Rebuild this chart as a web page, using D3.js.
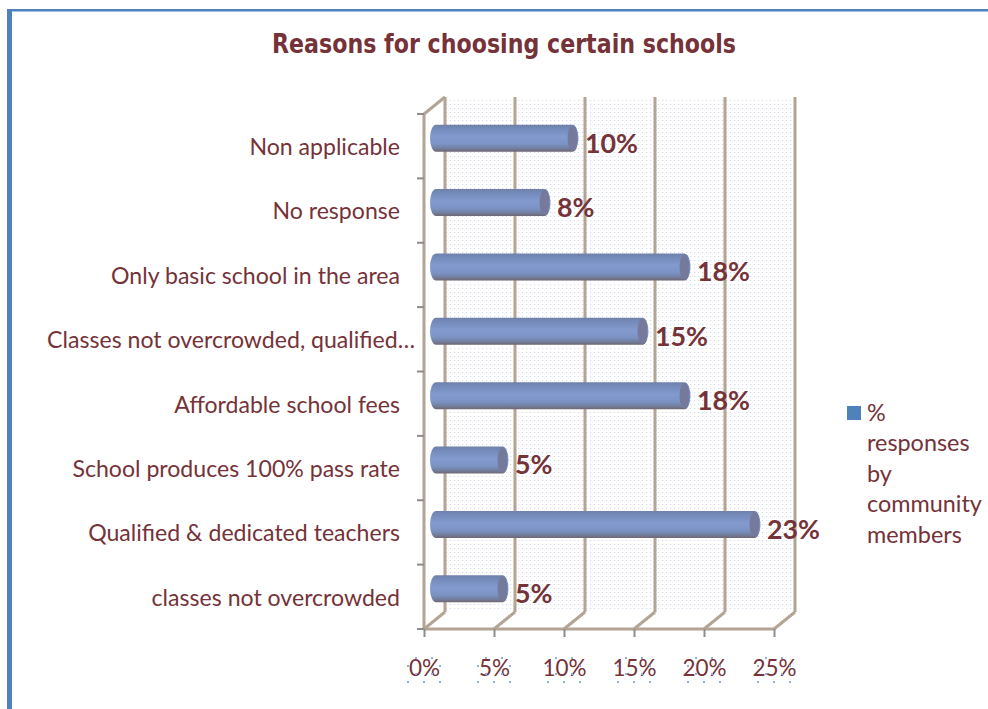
<!DOCTYPE html>
<html>
<head>
<meta charset="utf-8">
<script src="https://cdnjs.cloudflare.com/ajax/libs/d3/7.8.5/d3.min.js"></script>
<style>
html,body{margin:0;padding:0;background:#fff;}
svg{display:block;}
text{font-family:Lato,"Open Sans",sans-serif;}
</style>
</head>
<body>
<script>
const titleText = "Reasons for choosing certain schools";
const categories = ["Non applicable","No response","Only basic school in the area","Classes not overcrowded, qualified…","Affordable school fees","School produces 100% pass rate","Qualified & dedicated teachers","classes not overcrowded"];
const values = [10,8,18,15,18,5,23,5];
const xTicks = [0,5,10,15,20,25];
const legendLines = ["%","responses","by","community","members"];
// small square handles around each value-axis label: [x offset, row]
const handleOffsets = [[-8,658],[8,658],[-16,666],[16,666],[-8,674],[8,674],[-16,682],[0,682],[16,682]];

const W = 988, H = 709;
const textColor = "#753238", wallColor = "#b3a493", tickColor = "#8c8c8c", frame = "#4f81bd";
const depthX = 21, depthY = 17;

const svg = d3.select("body").append("svg").attr("width",W).attr("height",H);
const defs = svg.append("defs");

// dotted back wall
const pat = defs.append("pattern").attr("id","wallDots").attr("patternUnits","userSpaceOnUse")
  .attr("width",4).attr("height",4);
pat.append("rect").attr("x",1).attr("y",1).attr("width",1.2).attr("height",1).attr("fill","#d2d9e8");

// cylinder shading
const grad = defs.append("linearGradient").attr("id","cyl").attr("x1",0).attr("y1",0).attr("x2",0).attr("y2",1);
[[0,"#6f80a8"],[0.12,"#7389b8"],[0.45,"#829ace"],[0.72,"#7b93c4"],[0.88,"#727f9f"],[1,"#6f6672"]]
  .forEach(d=>grad.append("stop").attr("offset",d[0]).attr("stop-color",d[1]));

// page frame
svg.append("rect").attr("x",7).attr("y",9).attr("width",W-7).attr("height",2.5).attr("fill",frame);
svg.append("rect").attr("x",7).attr("y",9).attr("width",5).attr("height",H-9).attr("fill",frame);

svg.append("text").attr("x",504).attr("y",53).attr("text-anchor","middle")
  .style("font-family","'DejaVu Sans',sans-serif")
  .attr("font-size",26).attr("font-weight",700).attr("fill",textColor)
  .attr("textLength",464).attr("lengthAdjust","spacingAndGlyphs").text(titleText);

const x = d3.scaleLinear().domain([0,25]).range([424,774]);
const y = d3.scaleBand().domain(categories).range([114,629]);

const back = svg.append("g").attr("transform",`translate(${depthX},${-depthY})`);
back.append("rect").attr("x",x(0)).attr("y",y.range()[0]+3).attr("width",x(25)-x(0)).attr("height",y.range()[1]-y.range()[0]-3)
  .attr("fill","url(#wallDots)");

// vertical walls and floor diagonals
const walls = svg.append("g").attr("stroke",wallColor).attr("fill","none");
walls.selectAll("line.v").data(xTicks).join("line").attr("class","v")
  .attr("x1",d=>x(d)+depthX).attr("x2",d=>x(d)+depthX).attr("y1",114-depthY).attr("y2",629-depthY).attr("stroke-width",3);
walls.selectAll("line.d").data(xTicks).join("line").attr("class","d")
  .attr("x1",d=>x(d)).attr("x2",d=>x(d)+depthX).attr("y1",629).attr("y2",629-depthY).attr("stroke-width",3);
walls.append("line").attr("x1",x(0)).attr("x2",x(0)+depthX).attr("y1",114).attr("y2",114-depthY).attr("stroke-width",3);
walls.append("line").attr("x1",x(0)).attr("x2",x(0)).attr("y1",114).attr("y2",629).attr("stroke-width",3);
walls.append("line").attr("x1",x(0)).attr("x2",x(25)).attr("y1",629).attr("y2",629).attr("stroke-width",3);

// category boundary ticks
svg.append("g").selectAll("line").data(d3.range(categories.length+1)).join("line")
  .attr("x1",417).attr("x2",424)
  .attr("y1",i=>114+i*y.step()).attr("y2",i=>114+i*y.step())
  .attr("stroke",tickColor).attr("stroke-width",2);

// category labels; the shortened label overruns the others on the right
const yAxis = d3.axisLeft(y).tickSize(0).tickPadding(24);
const yG = svg.append("g").attr("transform",`translate(${x(0)},1.5)`).call(yAxis);
yG.select(".domain").remove();
yG.selectAll("text").attr("font-size",23.1).attr("fill",textColor)
  .attr("dx",d=>d.endsWith("…")?15:0)
  .style("font-family","Lato,'Open Sans',sans-serif");

// value axis
const xAxis = d3.axisBottom(x).tickValues(xTicks).tickSize(8).tickPadding(23).tickFormat(d=>d+"%");
const xG = svg.append("g").attr("transform","translate(0,629)").call(xAxis);
xG.select(".domain").remove();
xG.selectAll("line").attr("stroke",tickColor).attr("stroke-width",2);
xG.selectAll("text").attr("font-size",22.5).attr("fill",textColor).style("font-family","Lato,'Open Sans',sans-serif");

// handles around the value axis labels
svg.append("g").selectAll("g").data(xTicks).join("g")
  .selectAll("rect").data(t=>handleOffsets.map(h=>[x(t)+h[0],h[1]])).join("rect")
  .attr("x",d=>d[0]-1).attr("y",d=>d[1]-1).attr("width",2).attr("height",2).attr("fill","#8fb0e2");

// cylindrical bars
const barH = 27, barOffset = -8, capR = 6, startX = 430, endShift = 14.5;
const bars = svg.append("g").selectAll("g").data(values).join("g")
  .attr("transform",(d,i)=>`translate(0,${y(categories[i])+y.bandwidth()/2+barOffset})`);
bars.append("path").attr("fill","url(#cyl)")
  .attr("d",d=>{
    const e = x(d)+endShift, h = barH/2;
    return `M${startX+capR},${-h}L${e-capR},${-h}A${capR},${h} 0 0 1 ${e-capR},${h}L${startX+capR},${h}A${capR},${h} 0 0 1 ${startX+capR},${-h}Z`;
  });
bars.append("ellipse").attr("cx",d=>x(d)+endShift-capR).attr("cy",0).attr("rx",capR-1).attr("ry",barH/2-1)
  .attr("fill","#757a9c");

// value labels
bars.append("text").attr("x",d=>x(d)+21).attr("y",5).attr("dy","0.35em")
  .attr("font-size",26.8).attr("font-weight",700).attr("fill",textColor).text(d=>d+"%");

// legend
svg.append("rect").attr("x",847).attr("y",406).attr("width",14).attr("height",14).attr("fill",frame);
svg.append("g").selectAll("text").data(legendLines).join("text")
  .attr("x",867).attr("y",(d,i)=>421+i*30.4)
  .attr("font-size",23.4).attr("fill",textColor).text(d=>d);
</script>
</body>
</html>
